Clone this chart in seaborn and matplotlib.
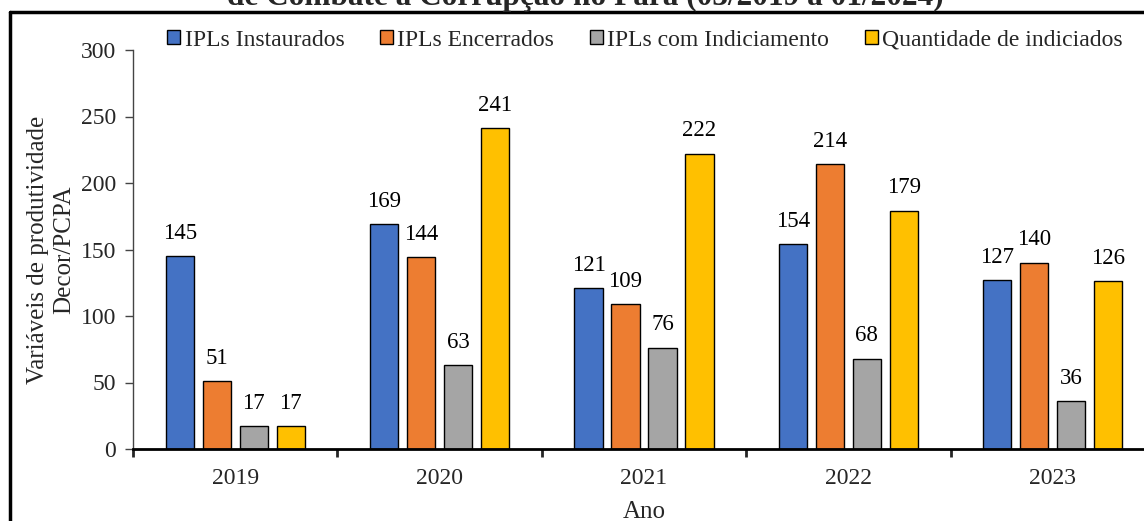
import pandas as pd
import matplotlib.pyplot as plt
import seaborn as sns
from matplotlib.lines import Line2D

# data
anos = ["2019", "2020", "2021", "2022", "2023"]
series = ["IPLs Instaurados", "IPLs Encerrados", "IPLs com Indiciamento", "Quantidade de indiciados"]
instaurados = [145, 169, 121, 154, 127]
encerrados = [51, 144, 109, 214, 140]
indiciamento = [17, 63, 76, 68, 36]
indiciados = [17, 241, 222, 179, 126]
cores = ["#4472C4", "#ED7D31", "#A5A5A5", "#FFC000"]
yticks = [0, 50, 100, 150, 200, 250, 300]

df = pd.DataFrame({
    "Ano": anos * 4,
    "Serie": [s for s in series for _ in anos],
    "Valor": instaurados + encerrados + indiciamento + indiciados,
})

sns.set_style("white")
plt.rcParams["font.family"] = ["Liberation Serif", "DejaVu Serif"]

fig = plt.figure(figsize=(11.44, 5.21), dpi=100)
ax = fig.add_axes([133 / 1144, 1 - 449 / 521, 1022 / 1144, 399 / 521])

sns.barplot(data=df, x="Ano", y="Valor", hue="Serie", hue_order=series,
            order=anos, palette=cores, saturation=1, width=0.724, gap=0.24,
            edgecolor="black", linewidth=1.0, ax=ax, legend=False)

for cont in ax.containers:
    ax.bar_label(cont, padding=9, fontsize=16.5, color="black")

ax.set_ylim(0, 300)
ax.set_xlim(-0.5, 4.5)
ax.set_yticks(yticks)
ax.tick_params(axis="y", direction="out", length=6, width=1, labelsize=17,
               left=True, color="#444444", pad=6)
ax.tick_params(axis="x", which="major", length=0, labelsize=17, pad=14)
ax.set_xticks([i - 0.5 for i in range(6)], minor=True)
ax.tick_params(axis="x", which="minor", direction="out", length=6, width=2, bottom=True)

for s in ["top", "right"]:
    ax.spines[s].set_visible(False)
ax.spines["left"].set_color("#444444")
ax.spines["left"].set_linewidth(1)
ax.spines["bottom"].set_color("black")
ax.spines["bottom"].set_linewidth(2)

ax.set_xlabel("Ano", fontsize=18, labelpad=8)
ax.set_ylabel("Variáveis de produtividade\nDecor/PCPA", fontsize=18, labelpad=4,
              linespacing=1.25)

handles = [plt.Rectangle((0, 0), 1, 1, facecolor=c, edgecolor="black", linewidth=1) for c in cores]
fig.legend(handles, series, loc="center", bbox_to_anchor=(645 / 1144, 1 - 40 / 521),
           ncol=4, frameon=False, fontsize=17, handlelength=0.55, handleheight=0.55,
           handletextpad=0.2, columnspacing=1.5)

# title clipped by the top edge, as in the source image
fig.text(585 / 1144, 1 - 5 / 521, "de Combate à Corrupção no Pará (03/2019 a 01/2024)",
         ha="center", va="baseline", fontsize=22.5, fontweight="bold")

# thick frame lines on the top and left
fig.add_artist(Line2D([10 / 1144, 1], [1 - 12 / 521, 1 - 12 / 521], color="black", lw=2.5,
                      transform=fig.transFigure))
fig.add_artist(Line2D([10 / 1144, 10 / 1144], [0, 1 - 12 / 521], color="black", lw=2.5,
                      transform=fig.transFigure))

fig.savefig("out.png", dpi=100)
